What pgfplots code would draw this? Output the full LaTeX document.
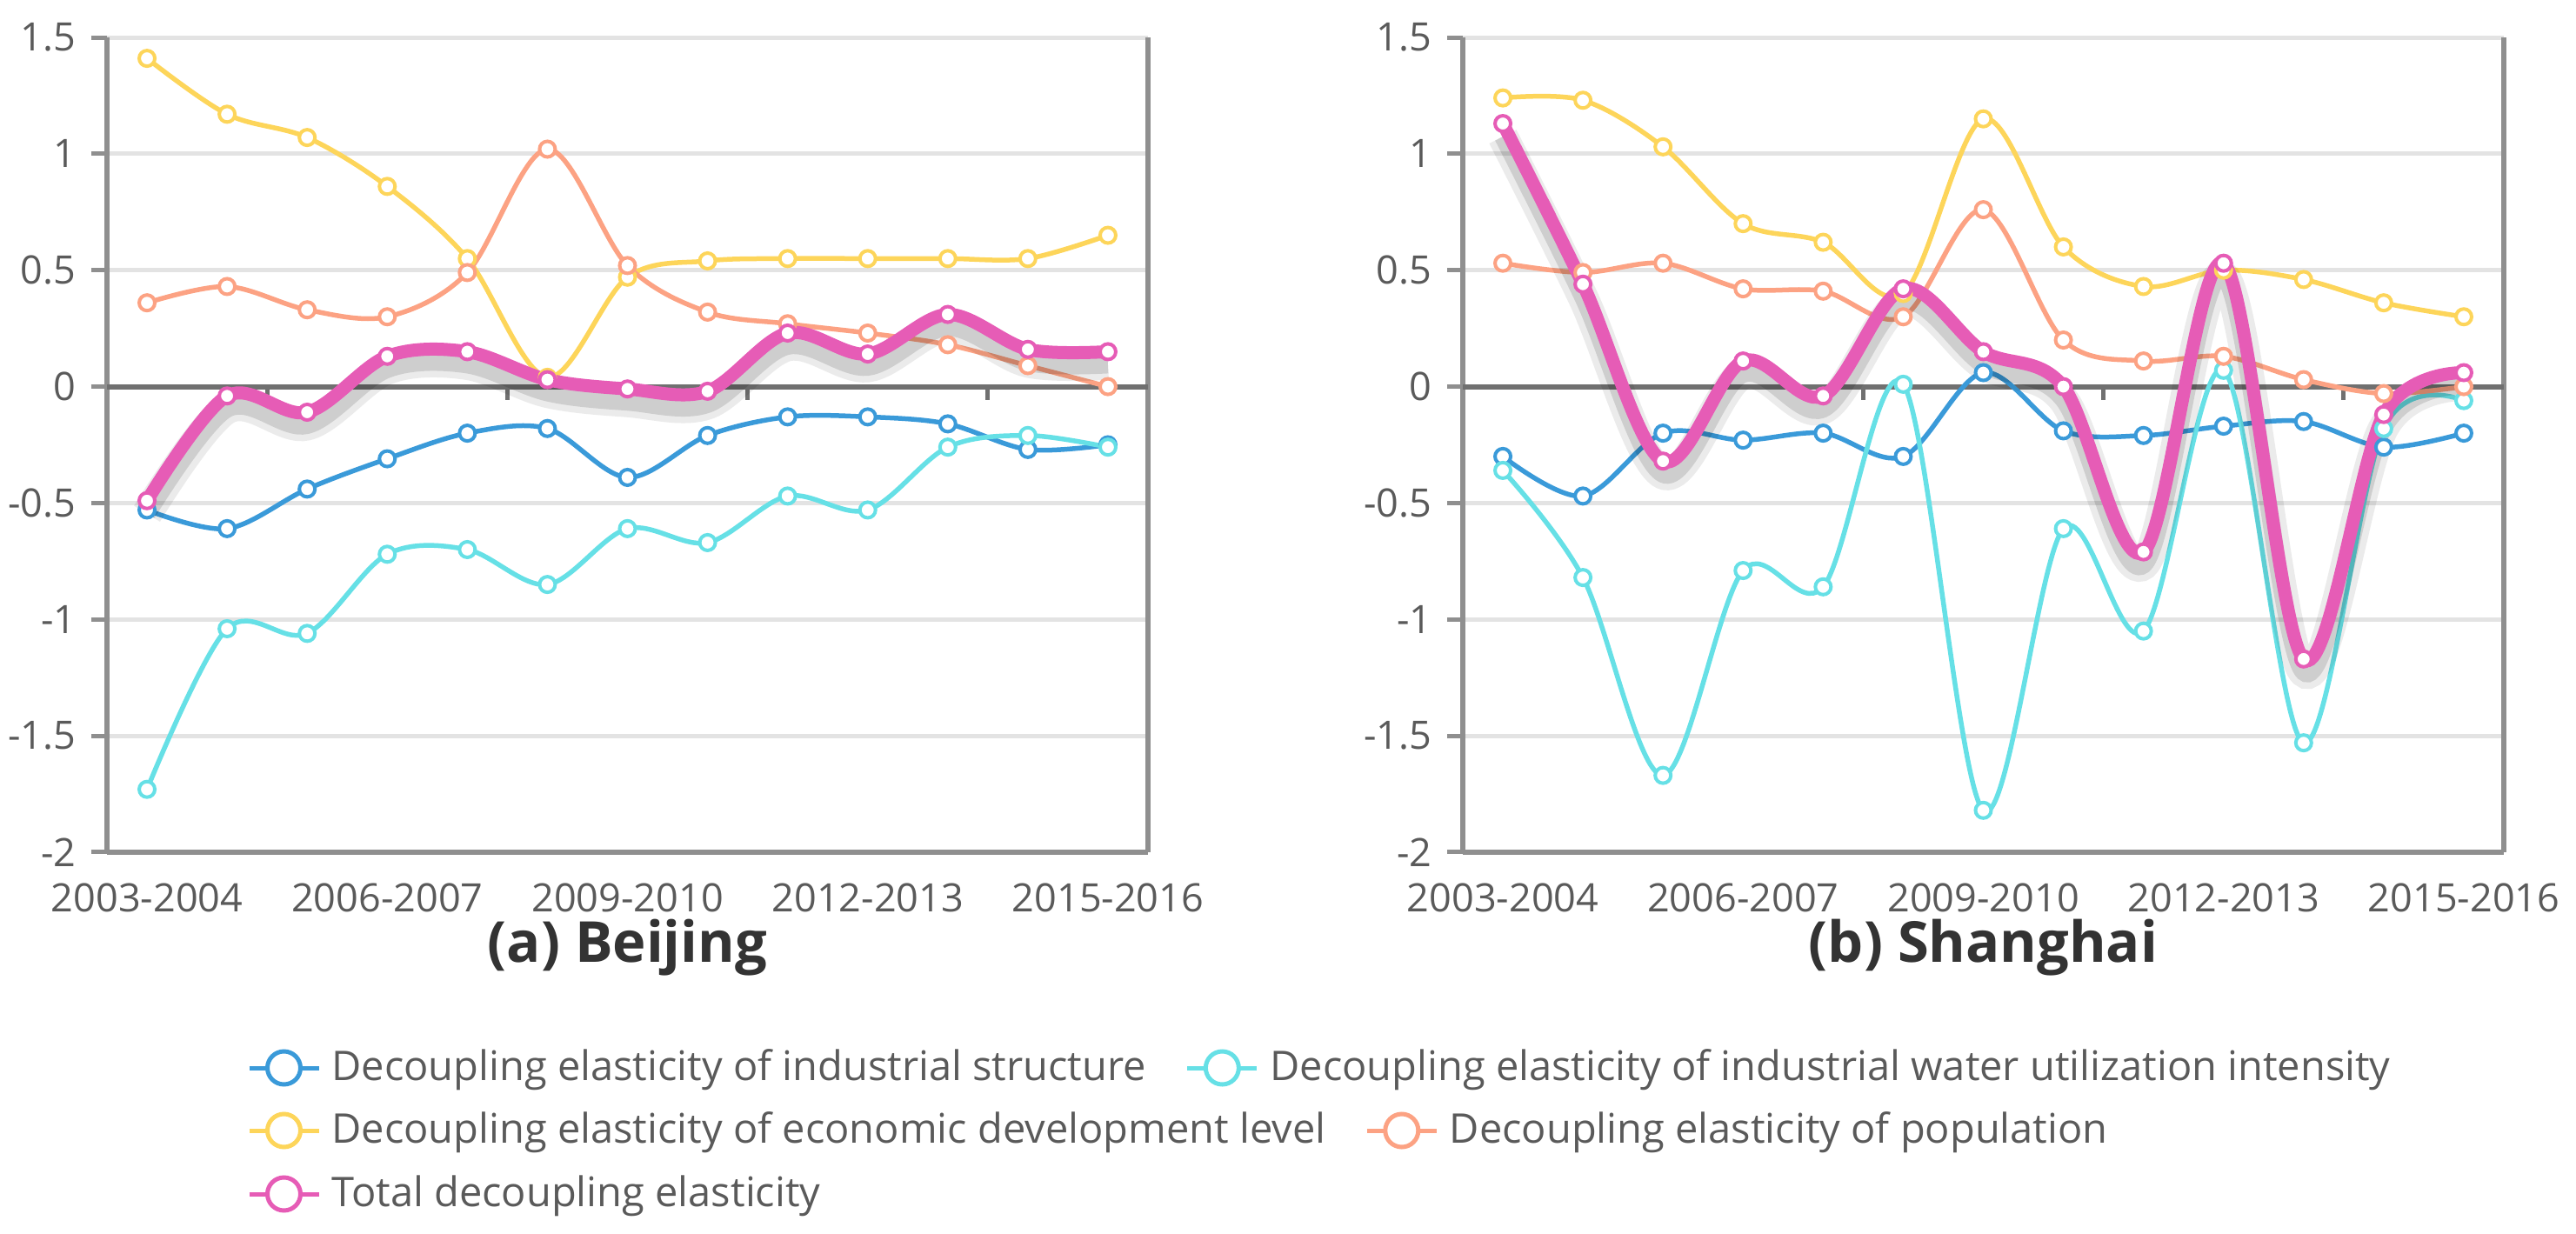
\documentclass[border=0pt]{standalone}
\usepackage{pgfplots}
\pgfplotsset{compat=1.18}
\usepackage{pgfplotstable}
\usepackage{fontspec}
\setmainfont{Open Sans}

\definecolor{cind}{HTML}{3A9AD9}
\definecolor{cwat}{HTML}{66E0E6}
\definecolor{ceco}{HTML}{FDD55A}
\definecolor{cpop}{HTML}{FCA283}
\definecolor{ctot}{HTML}{E65CB6}
\definecolor{axgray}{HTML}{8F8F8F}
\definecolor{zerogray}{HTML}{707070}
\definecolor{gridgray}{HTML}{E3E3E3}
\definecolor{txtgray}{HTML}{5A5A5A}

% Beijing
\pgfplotstableread{
x  ind    wat    eco   pop   tot
0  -0.53  -1.73  1.41  0.36  -0.49
1  -0.61  -1.04  1.17  0.43  -0.04
2  -0.44  -1.06  1.07  0.33  -0.11
3  -0.31  -0.72  0.86  0.30   0.13
4  -0.20  -0.70  0.55  0.49   0.15
5  -0.18  -0.85  0.04  1.02   0.03
6  -0.39  -0.61  0.47  0.52  -0.01
7  -0.21  -0.67  0.54  0.32  -0.02
8  -0.13  -0.47  0.55  0.27   0.23
9  -0.13  -0.53  0.55  0.23   0.14
10 -0.16  -0.26  0.55  0.18   0.31
11 -0.27  -0.21  0.55  0.09   0.16
12 -0.25  -0.26  0.65  0.00   0.15
}\beijing

% Shanghai
\pgfplotstableread{
x  ind    wat    eco   pop    tot
0  -0.30  -0.36  1.24  0.53   1.13
1  -0.47  -0.82  1.23  0.49   0.44
2  -0.20  -1.67  1.03  0.53  -0.32
3  -0.23  -0.79  0.70  0.42   0.11
4  -0.20  -0.86  0.62  0.41  -0.04
5  -0.30   0.01  0.40  0.30   0.42
6   0.06  -1.82  1.15  0.76   0.15
7  -0.19  -0.61  0.60  0.20   0.00
8  -0.21  -1.05  0.43  0.11  -0.71
9  -0.17   0.07  0.50  0.13   0.53
10 -0.15  -1.53  0.46  0.03  -1.17
11 -0.26  -0.18  0.36 -0.03  -0.12
12 -0.20  -0.06  0.30  0.00   0.06
}\shanghai

\pgfplotsset{
  panel/.style={
    scale only axis, width=239.4pt, height=187.4pt,
    xmin=-0.5, xmax=12.5, ymin=-2, ymax=1.5,
    axis x line*=bottom, axis y line*=box,
    axis line style={-, axgray, line width=1.2pt},
    xtick={0,3,6,9,12},
    xticklabels={2003-2004,2006-2007,2009-2010,2012-2013,2015-2016},
    ytick={-2,-1.5,-1,-0.5,0,0.5,1,1.5},
    yticklabels={-2,-1.5,-1,-0.5,0,0.5,1,1.5},
    ytick pos=left,
    tick align=outside,
    major tick length=3.6pt,
    xtick style={draw=none},
    ytick style={axgray, line width=1pt},
    ymajorgrids, grid style={gridgray, line width=1pt},
    extra y ticks={0}, extra y tick labels={},
    extra y tick style={grid=major, grid style={zerogray, line width=1.2pt}},
    tick label style={font=\fontsize{9}{10}\selectfont, text=txtgray},
    xlabel style={at={(axis description cs:0.5,0)}, anchor=center, yshift=-22pt,
      font=\fontsize{13}{15}\selectfont\bfseries, text=black!80},
  },
  ser/.style={color=#1, smooth, tension=0.55, line width=1.1pt,
    mark=*, mark size=1.8pt, mark options={fill=white, line width=0.8pt}},
  shadow/.style={smooth, tension=0.55, color=black, opacity=#1, mark=none, yshift=-3pt, forget plot},
  lg/.style={legend image code/.code={
      \draw[#1, line width=1pt] (0pt,0pt) -- (16pt,0pt);
      \draw[#1, line width=1pt, fill=white] (8pt,0pt) circle (3.8pt);}},
  legendrow/.style={hide axis, scale only axis, width=1pt, height=1pt, anchor=center,
    xmin=0, xmax=1, ymin=0, ymax=1, legend columns=-1, legend cell align=left,
    legend style={at={(0.5,0.5)}, anchor=west, draw=none, fill=none, inner sep=0pt,
      font=\fontsize{9.4}{11}\selectfont, text=txtgray,
      nodes={inner sep=2.5pt},
      /tikz/every even column/.append style={column sep=6.5pt}}},
}

\begin{document}
\begin{tikzpicture}
\useasboundingbox (0,0) rectangle (592.4pt,-283.8pt);

% (a) Beijing
\begin{axis}[panel, at={(24.6pt,-8.6pt)}, anchor=north west, xlabel={(a) Beijing}]
\draw[zerogray, line width=1pt] (axis cs:1.5,0) -- ++(0pt,-3pt);
\draw[zerogray, line width=1pt] (axis cs:4.5,0) -- ++(0pt,-3pt);
\draw[zerogray, line width=1pt] (axis cs:7.5,0) -- ++(0pt,-3pt);
\draw[zerogray, line width=1pt] (axis cs:10.5,0) -- ++(0pt,-3pt);
\addplot[ser=cind] table[x=x, y=ind] {\beijing};
\addplot[ser=cwat] table[x=x, y=wat] {\beijing};
\addplot[ser=ceco] table[x=x, y=eco] {\beijing};
\addplot[ser=cpop] table[x=x, y=pop] {\beijing};
\addplot[shadow=0.08, line width=7pt] table[x=x, y=tot] {\beijing};
\addplot[shadow=0.12, line width=4pt] table[x=x, y=tot] {\beijing};
\addplot[ser=ctot, line width=3pt] table[x=x, y=tot] {\beijing};
\end{axis}

% (b) Shanghai
\begin{axis}[panel, at={(336.4pt,-8.6pt)}, anchor=north west, xlabel={(b) Shanghai}]
\draw[zerogray, line width=1pt] (axis cs:1.5,0) -- ++(0pt,-3pt);
\draw[zerogray, line width=1pt] (axis cs:4.5,0) -- ++(0pt,-3pt);
\draw[zerogray, line width=1pt] (axis cs:7.5,0) -- ++(0pt,-3pt);
\draw[zerogray, line width=1pt] (axis cs:10.5,0) -- ++(0pt,-3pt);
\addplot[ser=cind] table[x=x, y=ind] {\shanghai};
\addplot[ser=cwat] table[x=x, y=wat] {\shanghai};
\addplot[ser=ceco] table[x=x, y=eco] {\shanghai};
\addplot[ser=cpop] table[x=x, y=pop] {\shanghai};
\addplot[shadow=0.08, line width=7pt] table[x=x, y=tot] {\shanghai};
\addplot[shadow=0.12, line width=4pt] table[x=x, y=tot] {\shanghai};
\addplot[ser=ctot, line width=3pt] table[x=x, y=tot] {\shanghai};
\end{axis}

% legend rows
\begin{axis}[legendrow, at={(56.6pt,-245.6pt)}]
\addlegendimage{lg=cind}\addlegendentry{Decoupling elasticity of industrial structure}
\addlegendimage{lg=cwat}\addlegendentry{Decoupling elasticity of industrial water utilization intensity}
\end{axis}
\begin{axis}[legendrow, at={(56.6pt,-260pt)}]
\addlegendimage{lg=ceco}\addlegendentry{Decoupling elasticity of economic development level}
\addlegendimage{lg=cpop}\addlegendentry{Decoupling elasticity of population}
\end{axis}
\begin{axis}[legendrow, at={(56.6pt,-274.6pt)}]
\addlegendimage{lg=ctot}\addlegendentry{Total decoupling elasticity}
\end{axis}
\end{tikzpicture}
\end{document}
